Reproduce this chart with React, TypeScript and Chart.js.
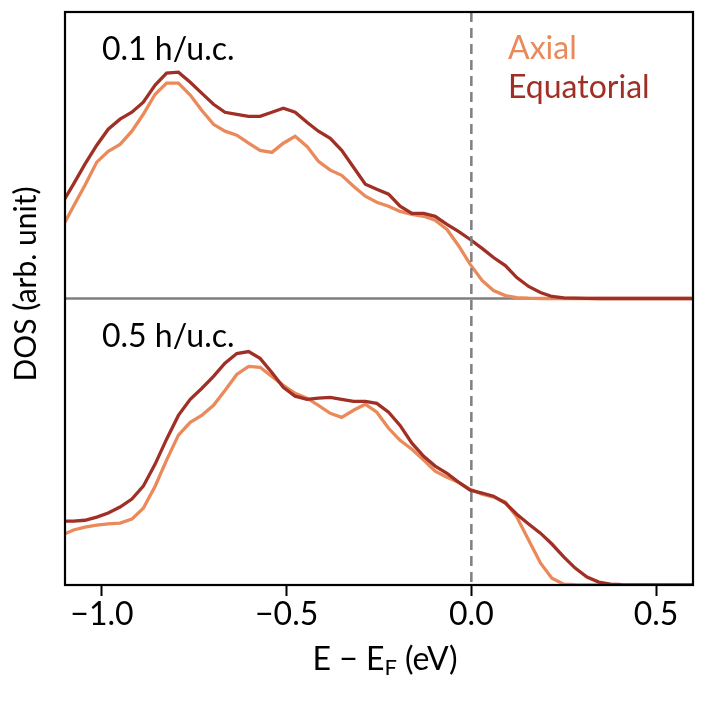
import React, { useEffect, useRef } from "react";
import { Chart, registerables } from "chart.js";

Chart.register(...registerables);

// Energy grid (eV), E - E_F
const ENERGY = [
  -1.109, -1.077, -1.046, -1.014, -0.983, -0.951, -0.919, -0.888, -0.856, -0.825,
  -0.793, -0.761, -0.730, -0.698, -0.667, -0.635, -0.603, -0.572, -0.540, -0.509,
  -0.477, -0.445, -0.414, -0.382, -0.351, -0.319, -0.287, -0.256, -0.224, -0.193,
  -0.161, -0.129, -0.098, -0.066, -0.035, -0.003, 0.029, 0.060, 0.092, 0.123,
  0.155, 0.187, 0.218, 0.250, 0.281, 0.313, 0.345, 0.376, 0.408, 0.439,
  0.471, 0.503, 0.534, 0.566, 0.597, 0.629,
];

// 0.1 h/u.c. panel (arb. unit)
const TOP_AXIAL = [
  24.5, 32.2, 39.5, 47.6, 51.4, 53.8, 58.4, 64.3, 71.3, 75.2,
  75.2, 71.0, 65.7, 60.8, 58.4, 57.0, 54.2, 51.7, 51.0, 54.2,
  56.6, 53.1, 47.9, 44.8, 43.0, 39.2, 35.7, 33.6, 32.2, 30.4,
  29.4, 28.7, 27.3, 24.1, 18.5, 11.9, 6.3, 2.8, 1.0, 0.3,
  0.1, 0, 0, 0, 0, 0, 0, 0, 0, 0,
  0, 0, 0, 0, 0, 0,
];
const TOP_EQUATORIAL = [
  32.9, 39.9, 46.9, 53.5, 59.1, 62.6, 65.0, 68.5, 74.5, 78.7,
  79.0, 75.5, 71.7, 67.8, 65.0, 64.3, 63.6, 63.6, 65.0, 66.4,
  65.0, 61.5, 58.4, 55.9, 51.7, 45.8, 39.9, 38.1, 36.4, 32.2,
  29.7, 29.7, 28.7, 25.9, 23.4, 20.6, 17.5, 14.3, 11.5, 7.3,
  4.2, 2.1, 0.7, 0.2, 0.1, 0.05, 0, 0, 0, 0,
  0, 0, 0, 0, 0, 0,
];

// 0.5 h/u.c. panel (arb. unit)
const BOTTOM_AXIAL = [
  17.4, 19.2, 20.2, 20.9, 21.3, 21.6, 23.0, 26.8, 34.5, 43.6,
  52.3, 56.8, 59.2, 62.7, 67.9, 73.5, 76.3, 76.0, 72.8, 69.7,
  66.9, 65.2, 62.7, 59.9, 58.5, 61.0, 63.1, 60.3, 54.7, 50.5,
  47.4, 43.6, 39.7, 37.6, 35.9, 33.4, 31.7, 30.7, 28.9, 23.7,
  15.7, 7.7, 2.4, 0.3, 0.1, 0, 0, 0, 0, 0,
  0, 0, 0, 0, 0, 0,
];
const BOTTOM_EQUATORIAL = [
  22.3, 22.3, 22.6, 23.7, 25.1, 27.2, 30.0, 34.5, 42.2, 50.9,
  59.2, 64.8, 68.6, 72.8, 77.4, 80.8, 81.5, 79.1, 74.2, 69.0,
  65.9, 64.8, 65.2, 65.5, 64.8, 64.1, 64.1, 63.4, 60.3, 55.7,
  49.5, 44.9, 41.5, 39.0, 35.9, 33.1, 32.1, 31.0, 28.6, 24.7,
  21.3, 18.1, 14.3, 9.8, 5.9, 2.8, 1.0, 0.3, 0.1, 0,
  0, 0, 0, 0, 0, 0,
];

const X_TICKS = [-1.0, -0.5, 0.0, 0.5];
const X_TICK_LABELS = ["\u22121.0", "\u22120.5", "0.0", "0.5"];
const PANEL_LABELS = ["0.1 h/u.c.", "0.5 h/u.c."];
const SERIES_NAMES = ["Axial", "Equatorial"];
const Y_TITLE = "DOS (arb. unit)";
const X_TITLE_MAIN = "E \u2212 E";
const X_TITLE_SUB = "F";
const X_TITLE_TAIL = " (eV)";

const X_MIN = -1.1;
const X_MAX = 0.6;
const FERMI = 0.0;

const COLOR_AXIAL = "#EA8A5A";
const COLOR_EQUATORIAL = "#A02F25";
const FONT = "Lato, 'DejaVu Sans', sans-serif";
const FS = 32;

const toPoints = (ys: number[]) => ENERGY.map((x, i) => ({ x, y: ys[i] }));

const overlayPlugin = {
  id: "overlay",
  beforeDatasetsDraw(chart: any) {
    const { ctx, chartArea: a, scales } = chart;
    const yMid = scales.yTop.getPixelForValue(0);
    ctx.save();
    ctx.strokeStyle = "#7f7f7f";
    ctx.lineWidth = 2.5;
    ctx.beginPath();
    ctx.moveTo(a.left, yMid);
    ctx.lineTo(a.right, yMid);
    ctx.stroke();
    ctx.restore();
  },
  afterDatasetsDraw(chart: any) {
    const { ctx, chartArea: a, scales } = chart;
    const x0 = scales.x.getPixelForValue(FERMI);
    const yMid = scales.yTop.getPixelForValue(0);
    ctx.save();
    // Fermi level dashed line
    ctx.strokeStyle = "#7f7f7f";
    ctx.lineWidth = 2.5;
    ctx.setLineDash([10, 6]);
    ctx.beginPath();
    ctx.moveTo(x0, a.top);
    ctx.lineTo(x0, a.bottom);
    ctx.stroke();
    ctx.setLineDash([]);
    // frame
    ctx.strokeStyle = "#000";
    ctx.lineWidth = 2.2;
    ctx.strokeRect(a.left, a.top, a.right - a.left, a.bottom - a.top);

    // panel labels
    ctx.fillStyle = "#000";
    ctx.font = `${FS}px ${FONT}`;
    ctx.textAlign = "left";
    ctx.textBaseline = "alphabetic";
    ctx.fillText(PANEL_LABELS[0], a.left + 37, a.top + 48);
    ctx.fillText(PANEL_LABELS[1], a.left + 37, yMid + 48);

    // legend (coloured text)
    ctx.fillStyle = COLOR_AXIAL;
    ctx.fillText(SERIES_NAMES[0], a.left + 443, a.top + 47);
    ctx.fillStyle = COLOR_EQUATORIAL;
    ctx.fillText(SERIES_NAMES[1], a.left + 443, a.top + 86);

    // x title with subscript
    ctx.fillStyle = "#000";
    const fMain = `${FS}px ${FONT}`;
    const fSub = `${Math.round(FS * 0.7)}px ${FONT}`;
    ctx.font = fMain;
    const w1 = ctx.measureText(X_TITLE_MAIN).width;
    const w3 = ctx.measureText(X_TITLE_TAIL).width;
    ctx.font = fSub;
    const w2 = ctx.measureText(X_TITLE_SUB).width;
    const total = w1 + w2 + w3;
    const cx = (a.left + a.right) / 2 + 6;
    let xx = cx - total / 2;
    const base = 670;
    ctx.font = fMain;
    ctx.fillText(X_TITLE_MAIN, xx, base);
    xx += w1;
    ctx.font = fSub;
    ctx.fillText(X_TITLE_SUB, xx, base + 5);
    xx += w2;
    ctx.font = fMain;
    ctx.fillText(X_TITLE_TAIL, xx, base);

    // y title
    ctx.save();
    ctx.translate(36, 284);
    ctx.rotate(-Math.PI / 2);
    ctx.textAlign = "center";
    ctx.font = `30px ${FONT}`;
    ctx.fillText(Y_TITLE, 0, 0);
    ctx.restore();

    ctx.restore();
  },
};

export default function App() {
  const ref = useRef<HTMLCanvasElement | null>(null);

  useEffect(() => {
    if (!ref.current) return;
    const mk = (label: string, ys: number[], axis: string, color: string, order: number) => ({
      label,
      data: toPoints(ys),
      yAxisID: axis,
      borderColor: color,
      backgroundColor: color,
      borderWidth: 3.3,
      pointRadius: 0,
      tension: 0,
      order,
    });
    const chart = new Chart(ref.current, {
      type: "line",
      data: {
        datasets: [
          mk(SERIES_NAMES[0] + " (0.1)", TOP_AXIAL, "yTop", COLOR_AXIAL, 2),
          mk(SERIES_NAMES[1] + " (0.1)", TOP_EQUATORIAL, "yTop", COLOR_EQUATORIAL, 1),
          mk(SERIES_NAMES[0] + " (0.5)", BOTTOM_AXIAL, "yBot", COLOR_AXIAL, 2),
          mk(SERIES_NAMES[1] + " (0.5)", BOTTOM_EQUATORIAL, "yBot", COLOR_EQUATORIAL, 1),
        ],
      },
      options: {
        responsive: false,
        animation: false,
        events: [],
        layout: { padding: { left: 65, top: 12, right: 12, bottom: 0 } },
        plugins: { legend: { display: false }, tooltip: { enabled: false }, title: { display: false } },
        scales: {
          x: {
            type: "linear",
            min: X_MIN,
            max: X_MAX,
            afterBuildTicks: (scale: any) => {
              scale.ticks = X_TICKS.map((v) => ({ value: v }));
            },
            afterFit: (scale: any) => {
              scale.height = 120;
            },
            ticks: {
              autoSkip: false,
              maxRotation: 0,
              padding: -1,
              color: "#000",
              font: { family: FONT, size: FS },
              callback: (v: any) => {
                const i = X_TICKS.findIndex((t) => Math.abs(t - Number(v)) < 1e-9);
                return i >= 0 ? X_TICK_LABELS[i] : "";
              },
            },
            grid: {
              drawOnChartArea: false,
              drawTicks: true,
              tickLength: 11,
              tickWidth: 2,
              tickColor: "#000",
            },
            border: { display: false },
          },
          yTop: { type: "linear", display: false, min: -100, max: 100 },
          yBot: { type: "linear", display: false, min: 0, max: 200 },
        },
      },
      plugins: [overlayPlugin],
    });
    return () => chart.destroy();
  }, []);

  return (
    <div style={{ position: "fixed", left: 0, top: 0, width: 705, height: 705, background: "#fff" }}>
      <canvas ref={ref} width={705} height={705} style={{ display: "block" }} />
    </div>
  );
}
